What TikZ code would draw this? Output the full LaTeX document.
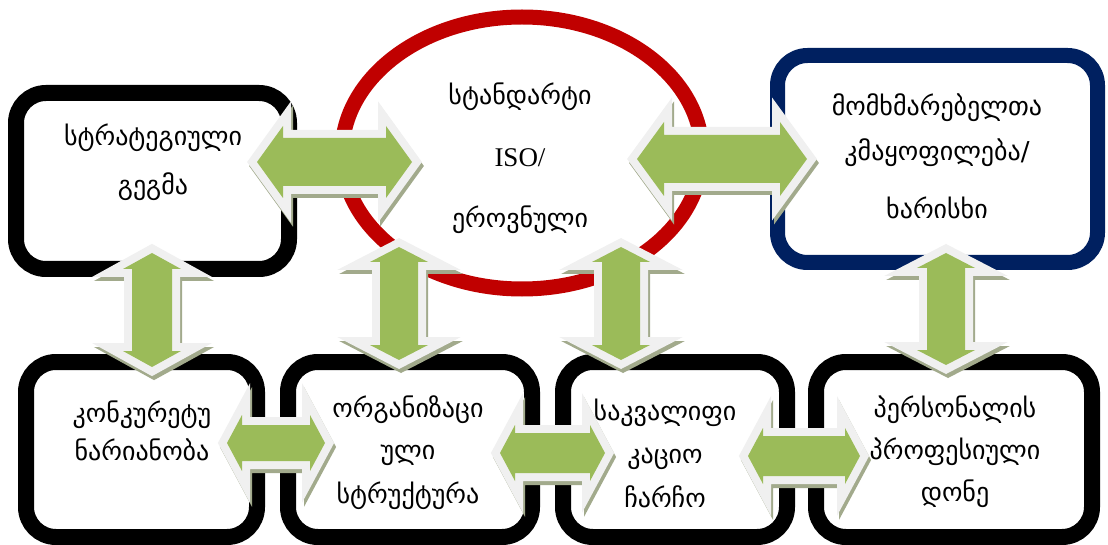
\documentclass[tikz,border=0pt]{standalone}
\usepackage{fontspec}
\setmainfont{DejaVu Sans}
\newfontfamily\latinserif{Liberation Serif}
\usetikzlibrary{shapes.geometric}
\definecolor{agreen}{HTML}{9BBB59}
\definecolor{aoutline}{HTML}{F0F0F0}
\definecolor{ashadow}{HTML}{A2AA8C}
\definecolor{ered}{HTML}{C00000}
\definecolor{bnavy}{HTML}{002060}
\tikzset{
  box/.style={draw=black, line width=16pt, rounded corners=30pt, fill=white, inner sep=0pt},
  navybox/.style={box, draw=bnavy, line width=15pt},
  isoring/.style={ellipse, draw=ered, line width=15pt, inner sep=0pt},
  txt/.style={font=\fontsize{26}{30}\selectfont, align=center, inner sep=0pt, text=black},
  arrshadow/.style={fill=ashadow, draw=ashadow, line width=16pt, line join=miter, shift={(2,4)}},
  arrbody/.style={preaction={draw=aoutline, line width=16pt, line join=miter}, fill=agreen}
}
% horizontal double block arrow: name, cx, cy, L, h, s, H
\newcommand\blockarrowH[7]{%
  \coordinate (#1) at (#2,#3);
  \path[arrshadow] (#2-#4,#3) -- (#2-#4+#5,#3-#7) -- (#2-#4+#5,#3-#6) -- (#2+#4-#5,#3-#6) -- (#2+#4-#5,#3-#7) -- (#2+#4,#3) -- (#2+#4-#5,#3+#7) -- (#2+#4-#5,#3+#6) -- (#2-#4+#5,#3+#6) -- (#2-#4+#5,#3+#7) -- cycle;
  \path[arrbody] (#2-#4,#3) -- (#2-#4+#5,#3-#7) -- (#2-#4+#5,#3-#6) -- (#2+#4-#5,#3-#6) -- (#2+#4-#5,#3-#7) -- (#2+#4,#3) -- (#2+#4-#5,#3+#7) -- (#2+#4-#5,#3+#6) -- (#2-#4+#5,#3+#6) -- (#2-#4+#5,#3+#7) -- cycle;
}
% vertical double block arrow: name, cx, cy, L, h, s, H
\newcommand\blockarrowV[7]{%
  \coordinate (#1) at (#2,#3);
  \path[arrshadow] (#2,#3-#4) -- (#2+#7,#3-#4+#5) -- (#2+#6,#3-#4+#5) -- (#2+#6,#3+#4-#5) -- (#2+#7,#3+#4-#5) -- (#2,#3+#4) -- (#2-#7,#3+#4-#5) -- (#2-#6,#3+#4-#5) -- (#2-#6,#3-#4+#5) -- (#2-#7,#3-#4+#5) -- cycle;
  \path[arrbody] (#2,#3-#4) -- (#2+#7,#3-#4+#5) -- (#2+#6,#3-#4+#5) -- (#2+#6,#3+#4-#5) -- (#2+#7,#3+#4-#5) -- (#2,#3+#4) -- (#2-#7,#3+#4-#5) -- (#2-#6,#3+#4-#5) -- (#2-#6,#3-#4+#5) -- (#2-#7,#3-#4+#5) -- cycle;
}
\begin{document}
\begin{tikzpicture}[x=1pt,y=-1pt]
\useasboundingbox (0,0) rectangle (1108,545);
% boxes and ring
\node[box, minimum width=273pt, minimum height=176pt] (plan) at (152.5,181) {};
\node[isoring, minimum width=360pt, minimum height=272pt] (iso) at (522,153) {};
\node[navybox, minimum width=320pt, minimum height=207pt] (quality) at (937.5,159) {};
\node[box, minimum width=231pt, minimum height=175pt] (compet) at (141.5,449.5) {};
\node[box, minimum width=244pt, minimum height=175pt] (orgstr) at (410,449.5) {};
\node[box, minimum width=224pt, minimum height=175pt] (qualfr) at (675,449.5) {};
\node[box, minimum width=276pt, minimum height=175pt] (staff) at (954,449.5) {};
% arrows
\blockarrowH{a1}{334.5}{162}{77.5}{26}{24}{36}
\blockarrowH{a2}{722}{159}{85}{27}{24}{37}
\blockarrowV{a3}{152}{310}{57}{16}{20}{29}
\blockarrowV{a4}{399}{303.5}{56.5}{15}{19}{29}
\blockarrowV{a5}{621}{303.5}{56.5}{15}{19}{29}
\blockarrowV{a6}{946}{309}{56}{15}{19}{29}
\blockarrowH{a7}{276}{443}{49}{15}{18}{28}
\blockarrowH{a8}{552.5}{453}{52.5}{15}{20}{28}
\blockarrowH{a9}{804}{456}{56}{15}{20}{28}
% texts
\node[txt] (tplan) at (153,162.5) {სტრატეგიული\\[19pt]გეგმა};
\node[txt] (tiso) at (520,158.5) {სტანდარტი\\[31.5pt]{\latinserif\fontsize{27}{30}\selectfont ISO/}\\[31.5pt]ეროვნული};
\node[txt] (tquality) at (937,156.5) {მომხმარებელთა\\[15pt]კმაყოფილება/\\[28pt]ხარისხი};
\node[txt] (tcompet) at (142,431) {კონკურეტუ\\[8pt]ნარიანობა};
\node[txt] (torgstr) at (408,453) {ორგანიზაცი\\[12pt]ული\\[14pt]სტრუქტურა};
\node[txt] (tqualfr) at (665,453.5) {საკვალიფი\\[13pt]კაციო\\[14pt]ჩარჩო};
\node[txt] (tstaff) at (955,452) {პერსონალის\\[12pt]პროფესიული\\[12pt]დონე};
\end{tikzpicture}
\end{document}
